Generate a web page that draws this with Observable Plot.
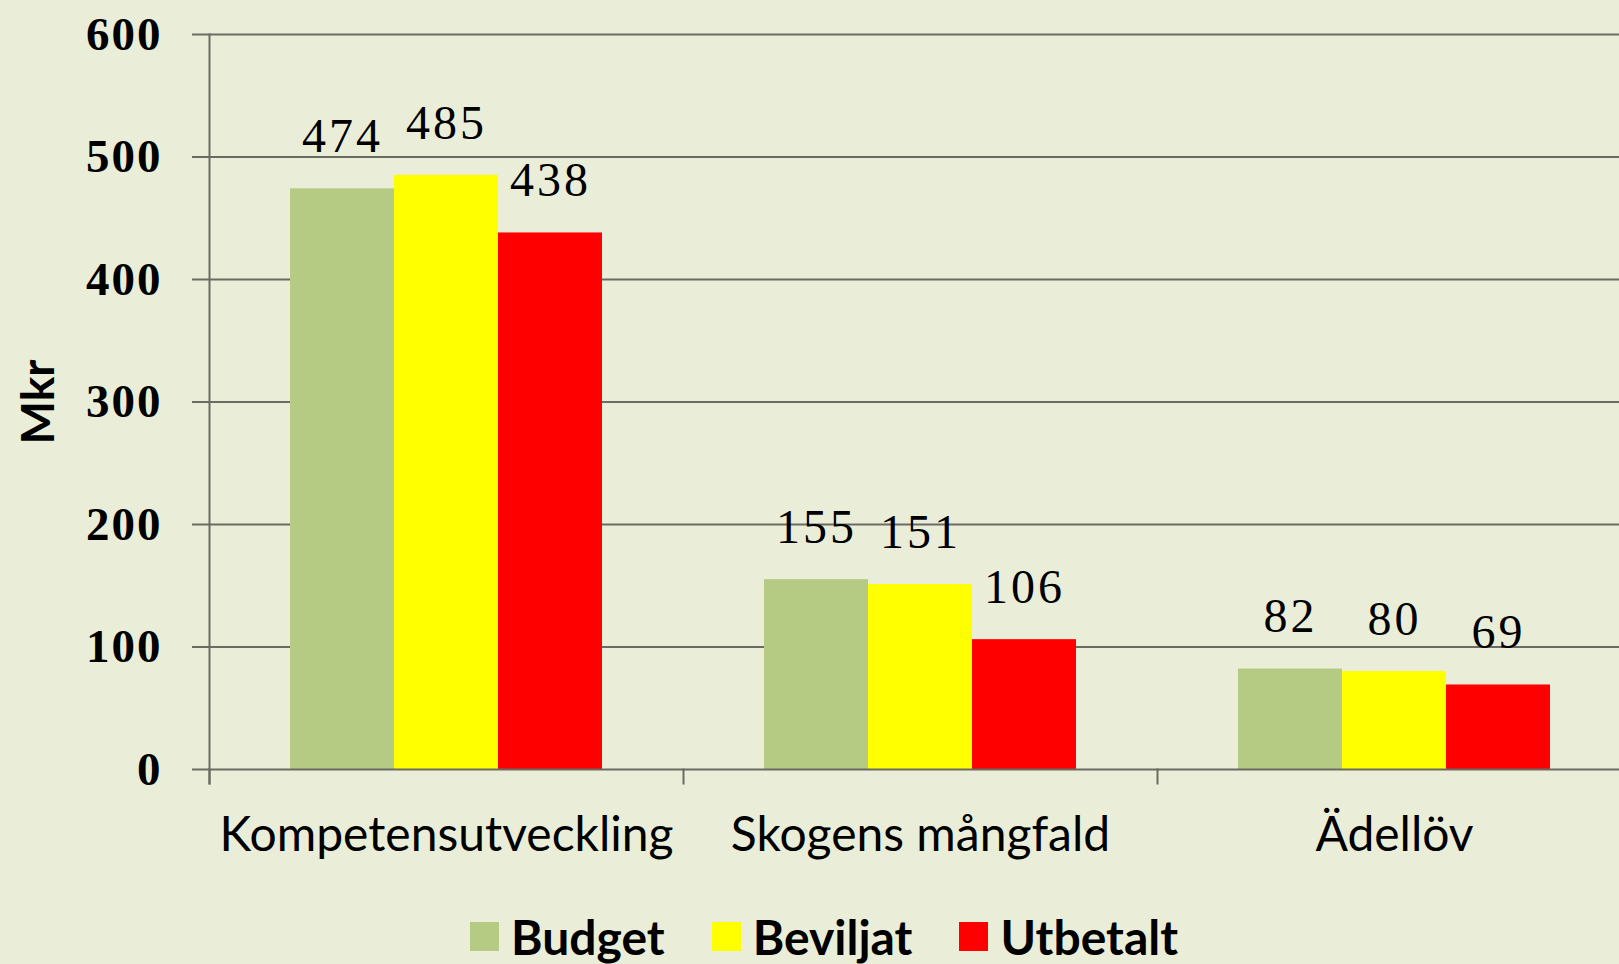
<!DOCTYPE html>
<html><head><meta charset="utf-8">
<script src="https://cdn.jsdelivr.net/npm/d3@7"></script>
<script src="https://cdn.jsdelivr.net/npm/@observablehq/plot@0.6"></script>
<style>
html,body{margin:0;padding:0;background:#EAEED9;overflow:hidden;width:1619px;height:964px;}
#chart svg{display:block;}
g[aria-label="text"] text{letter-spacing:3px;}
g[aria-label="y-axis tick label"] text{letter-spacing:2px;}
#legend{height:84px;box-sizing:border-box;padding-top:29px;padding-left:470px;display:flex;align-items:center;font-family:Lato,sans-serif;font-weight:bold;font-size:48px;line-height:58px;color:#000;}
#legend .item{display:flex;align-items:center;margin-right:47px;}
#legend .sw{width:29px;height:29px;margin-right:12px;}
</style></head><body>
<div id="chart"></div>
<div id="legend"></div>
<script>
const categories = ["Kompetensutveckling", "Skogens mångfald", "Ädellöv"];
const series = ["Budget", "Beviljat", "Utbetalt"];
const budget = [474, 155, 82];
const beviljat = [485, 151, 80];
const utbetalt = [438, 106, 69];
const yTicks = [0, 100, 200, 300, 400, 500, 600];
const colors = ["#B5CB84", "#FFFF00", "#FF0000"];
const yLabel = "Mkr";

const seriesValues = [budget, beviljat, utbetalt];
const table = categories.flatMap((c, i) => series.map((s, j) => ({category: c, series: s, value: seriesValues[j][i]})));

const grid = "#6B6B63";
const plot = Plot.plot({
  width: 1619, height: 880,
  marginLeft: 209, marginRight: 0, marginTop: 34, marginBottom: 111,
  style: {background: "#EAEED9", color: "#000", overflow: "hidden"},
  fx: {domain: categories, range: [209, 1631], padding: 0, label: null},
  x: {domain: series, paddingInner: 0, paddingOuter: 0.76, axis: null},
  y: {domain: [0, 600], axis: null},
  color: {domain: series, range: colors},
  marks: [
    Plot.ruleY(yTicks.slice(1), {stroke: grid, strokeWidth: 2}),
    Plot.axisY({ticks: yTicks, tickSize: 17, tickPadding: 30, stroke: grid, strokeWidth: 2,
      fontFamily: "Liberation Serif", fontWeight: "bold", fontSize: 47, label: null, tickFormat: d => String(d)}),
    Plot.axisY({ticks: [], tickSize: 0, label: yLabel, labelAnchor: "center", labelOffset: 188, labelArrow: "none",
      fontFamily: "Lato", fontWeight: "bold", fontSize: 46}),
    Plot.barY(table, {fx: "category", x: "series", y: "value", fill: "series"}),
    Plot.ruleY([0], {stroke: grid, strokeWidth: 2}),
    Plot.frame({anchor: "left", facetAnchor: "left", stroke: grid, strokeWidth: 2, insetBottom: -14}),
    Plot.frame({anchor: "left", stroke: grid, strokeWidth: 2, insetTop: 735, insetBottom: -14}),
    Plot.text(table, {fx: "category", x: "series", y: "value", text: "value", dy: -52,
      fontFamily: "Liberation Serif", fontSize: 48, fill: "#000"}),
    Plot.axisFx({anchor: "bottom", tickSize: 0, tickPadding: 47, label: null, fontFamily: "Lato", fontSize: 48})
  ]
});
document.getElementById("chart").appendChild(plot);

const legend = document.getElementById("legend");
series.forEach((s, i) => {
  const item = document.createElement("div");
  item.className = "item";
  const sw = document.createElement("div");
  sw.className = "sw";
  sw.style.background = colors[i];
  const t = document.createElement("span");
  t.textContent = s;
  item.appendChild(sw); item.appendChild(t);
  legend.appendChild(item);
});
</script>
</body></html>
